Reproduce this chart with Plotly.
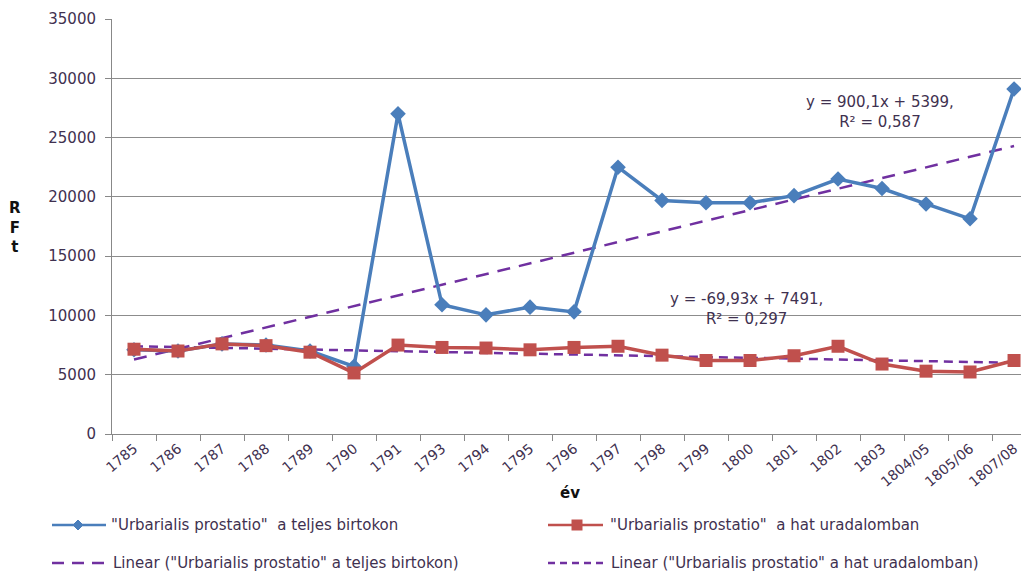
import numpy as np
import plotly.graph_objects as go

categories = ["1785", "1786", "1787", "1788", "1789", "1790", "1791", "1793", "1794", "1795",
              "1796", "1797", "1798", "1799", "1800", "1801", "1802", "1803", "1804/05",
              "1805/06", "1807/08"]
teljes = [7100, 7000, 7600, 7500, 7000, 5700, 27000, 10900, 10050, 10700,
          10300, 22500, 19700, 19500, 19500, 20100, 21500, 20700, 19400, 18150, 29100]
hat = [7150, 7000, 7600, 7450, 6900, 5150, 7500, 7300, 7250, 7100,
       7300, 7400, 6650, 6200, 6200, 6600, 7400, 5900, 5300, 5230, 6200]
y_ticks = [0, 5000, 10000, 15000, 20000, 25000, 30000, 35000]
y_tick_text = ["0", "5000", "10000", "15000", "20000", "25000", "30000", "35000"]
name_teljes = '"Urbarialis prostatio"  a teljes birtokon'
name_hat = '"Urbarialis prostatio"  a hat uradalomban'
eq_teljes = "y = 900,1x + 5399,<br>R² = 0,587"
eq_hat = "y = -69,93x + 7491,<br>R² = 0,297"

# page body has an 8px margin; figure covers the rest of the 1029x571 window
OFF = 8
W, H = 1029 - OFF, 571 - OFF
BLUE = "#4A7EBB"
RED = "#C0504D"
PURPLE = "#7030A0"
TXT = "#3f3150"
FONT = "DejaVu Sans"

xs = np.arange(1, len(categories) + 1)
fit_t = np.polyfit(xs, teljes, 1)
fit_h = np.polyfit(xs, hat, 1)
trend_t = np.polyval(fit_t, xs)
trend_h = np.polyval(fit_h, xs)

fig = go.Figure()
fig.add_trace(go.Scatter(x=categories, y=trend_t, mode="lines",
                         line=dict(color=PURPLE, width=2.5, dash="13px,9px"), showlegend=False))
fig.add_trace(go.Scatter(x=categories, y=trend_h, mode="lines",
                         line=dict(color=PURPLE, width=2.5, dash="9px,6px"), showlegend=False))
fig.add_trace(go.Scatter(x=categories, y=teljes, mode="lines+markers",
                         line=dict(color=BLUE, width=3.5),
                         marker=dict(symbol="diamond", size=12, color=BLUE), showlegend=False))
fig.add_trace(go.Scatter(x=categories, y=hat, mode="lines+markers",
                         line=dict(color=RED, width=3.5),
                         marker=dict(symbol="square", size=13, color=RED), showlegend=False))


def px(x):
    return (x - OFF) / W


def py(y):
    return 1 - (y - OFF) / H


shapes = []
# Legend row 1
shapes.append(dict(type="line", xref="paper", yref="paper", x0=px(52), x1=px(106), y0=py(525), y1=py(525),
                   line=dict(color=BLUE, width=2.5)))
d = 5
shapes.append(dict(type="path", xref="paper", yref="paper",
                   path=f"M {px(78-d)} {py(525)} L {px(78)} {py(525-d)} L {px(78+d)} {py(525)} L {px(78)} {py(525+d)} Z",
                   fillcolor=BLUE, line=dict(color=BLUE, width=1)))
shapes.append(dict(type="line", xref="paper", yref="paper", x0=px(548), x1=px(603), y0=py(525), y1=py(525),
                   line=dict(color=RED, width=2.5)))
s = 5.5
shapes.append(dict(type="rect", xref="paper", yref="paper", x0=px(577-s), x1=px(577+s), y0=py(525+s), y1=py(525-s),
                   fillcolor=RED, line=dict(color=RED, width=0)))
# Legend row 2
shapes.append(dict(type="line", xref="paper", yref="paper", x0=px(52), x1=px(108), y0=py(563), y1=py(563),
                   line=dict(color=PURPLE, width=2.5, dash="12px,8px")))
shapes.append(dict(type="line", xref="paper", yref="paper", x0=px(548), x1=px(606), y0=py(563), y1=py(563),
                   line=dict(color=PURPLE, width=2.5, dash="7px,5px")))

LEG = 15
annotations = [
    dict(text=name_teljes, x=px(109), y=py(525), xref="paper", yref="paper", xanchor="left", yanchor="middle",
         showarrow=False, font=dict(family=FONT, size=LEG, color=TXT)),
    dict(text=name_hat, x=px(608), y=py(525), xref="paper", yref="paper", xanchor="left", yanchor="middle",
         showarrow=False, font=dict(family=FONT, size=LEG, color=TXT)),
    dict(text="Linear (" + name_teljes.replace("  ", " ") + ")", x=px(111), y=py(563), xref="paper", yref="paper",
         xanchor="left", yanchor="middle", showarrow=False, font=dict(family=FONT, size=LEG, color=TXT)),
    dict(text="Linear (" + name_hat.replace("  ", " ") + ")", x=px(609), y=py(563), xref="paper", yref="paper",
         xanchor="left", yanchor="middle", showarrow=False, font=dict(family=FONT, size=LEG, color=TXT)),
    dict(text="<b>év</b>", x=px(570), y=py(493), xref="paper", yref="paper", xanchor="center", yanchor="middle",
         showarrow=False, font=dict(family=FONT, size=15, color="#111111")),
    dict(text="<b>R<br>F<br>t</b>", x=px(15), y=py(228), xref="paper", yref="paper", xanchor="center",
         yanchor="middle", showarrow=False, font=dict(family=FONT, size=15, color="#111111"), align="center"),
    dict(text=eq_teljes, x=px(880), y=py(112), xref="paper", yref="paper", xanchor="center", yanchor="middle",
         showarrow=False, font=dict(family=FONT, size=15, color=TXT), align="center"),
    dict(text=eq_hat, x=px(746), y=py(309), xref="paper", yref="paper", xanchor="center", yanchor="middle",
         showarrow=False, font=dict(family=FONT, size=15, color=TXT), align="center"),
]

fig.update_layout(
    width=W, height=H,
    margin=dict(l=0, r=0, t=0, b=0, autoexpand=False),
    paper_bgcolor="white", plot_bgcolor="white",
    showlegend=False,
    shapes=shapes,
    annotations=annotations,
    xaxis=dict(domain=[px(112), 1], type="category", categoryorder="array", categoryarray=categories,
               range=[-0.5, 20.34], tickson="boundaries", ticks="outside", ticklen=6, tickcolor="#888888",
               showline=True, linecolor="#888888", linewidth=1, showgrid=False, tickangle=-40,
               tickfont=dict(family=FONT, size=14, color=TXT), zeroline=False),
    yaxis=dict(domain=[py(434), py(19)], range=[0, 35000], tickvals=y_ticks, ticktext=y_tick_text,
               ticks="outside", ticklen=6, tickcolor="#888888", showline=True, linecolor="#888888",
               linewidth=1, showgrid=True, gridcolor="#8c8c8c", gridwidth=1, zeroline=False,
               tickfont=dict(family=FONT, size=15, color=TXT), ticklabelstandoff=6),
)

fig.write_html("out.html")
